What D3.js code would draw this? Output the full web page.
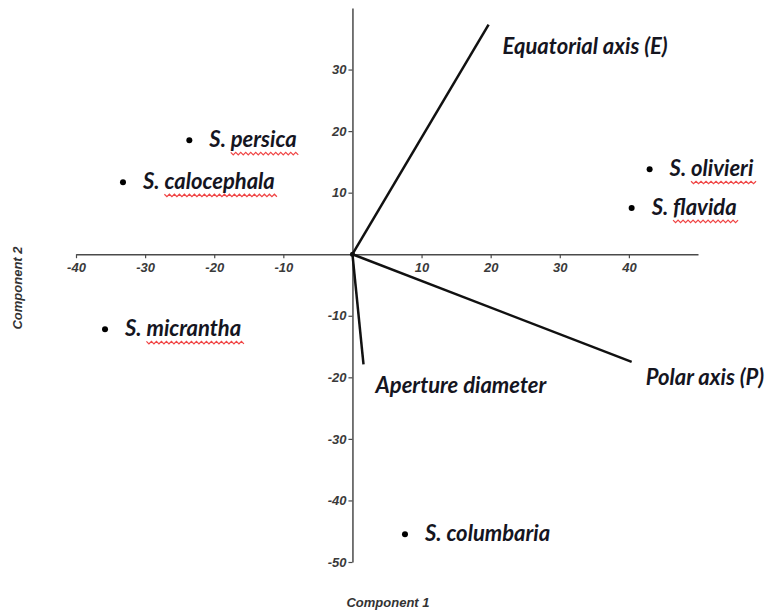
<!DOCTYPE html>
<html>
<head>
<meta charset="utf-8">
<script src="https://cdn.jsdelivr.net/npm/d3@7"></script>
<style>
  body { margin: 0; background: #fff; }
  svg { display: block; }
  .lbl { font-family: Lato, "Open Sans", sans-serif; font-weight: bold; font-style: italic; font-size: 22px; fill: #15151f; }
</style>
</head>
<body>
<script>
// species scores on the first two components
const species = ['S. persica', 'S. calocephala', 'S. olivieri', 'S. flavida', 'S. micrantha', 'S. columbaria']
const comp1 = [-23.6, -33.2, 43.0, 40.4, -35.8, 7.6]
const comp2 = [18.5, 11.7, 13.8, 7.5, -12.2, -45.5]
const spellFlag = [true, true, true, true, true, false]

// variable loadings (vectors from origin)
const variables = ['Equatorial axis (E)', 'Polar axis (P)', 'Aperture diameter']
const load1 = [19.7, 40.4, 1.6]
const load2 = [37.3, -17.5, -17.9]

const xTicks = [-40, -30, -20, -10, 10, 20, 30, 40]
const yTicks = [-50, -40, -30, -20, -10, 10, 20, 30]

const width = 770
const height = 611

const svg = d3.select('body').append('svg')
  .attr('width', width)
  .attr('height', height)

const x = d3.scaleLinear().domain([-40, 50]).range([76, 698])
const y = d3.scaleLinear().domain([-50, 40]).range([562, 8])

const axisColor = '#4a4a4a'
const tickFont = 'italic bold 13px Arial, "Liberation Sans", sans-serif'
const fmt = d => String(d)

const gx = svg.append('g')
  .attr('transform', `translate(0,${y(0)})`)
  .call(d3.axisBottom(x).tickValues(xTicks).tickSize(4).tickSizeOuter(0).tickPadding(5).tickFormat(fmt))
gx.select('.domain').attr('stroke', axisColor).attr('stroke-width', 1.5)
gx.selectAll('.tick line').attr('stroke', axisColor).attr('stroke-width', 1.2)

const gy = svg.append('g')
  .attr('transform', `translate(${x(0)},0)`)
  .call(d3.axisLeft(y).tickValues(yTicks).tickSize(4).tickSizeOuter(0).tickPadding(2).tickFormat(fmt))
gy.select('.domain').attr('stroke', axisColor).attr('stroke-width', 1.5)
gy.selectAll('.tick line').attr('stroke', axisColor).attr('stroke-width', 1.2)

svg.selectAll('.tick text')
  .attr('fill', '#3a3a3a')
  .style('font', tickFont)

// axis titles
svg.append('text')
  .attr('x', 388)
  .attr('y', 607)
  .attr('text-anchor', 'middle')
  .style('font', 'italic bold 13px Arial, "Liberation Sans", sans-serif')
  .attr('fill', '#333')
  .text('Component 1')

svg.append('text')
  .attr('transform', 'translate(22,288) rotate(-90)')
  .attr('text-anchor', 'middle')
  .style('font', 'italic bold 13px Arial, "Liberation Sans", sans-serif')
  .attr('fill', '#333')
  .text('Component 2')

// loading vectors
const vecData = variables.map((v, i) => ({ name: v, x: load1[i], y: load2[i] }))
const vecOffset = {
  'Equatorial axis (E)': [14, 29],
  'Polar axis (P)': [14, 23],
  'Aperture diameter': [12, 29]
}

svg.append('g').selectAll('line')
  .data(vecData)
  .join('line')
  .attr('x1', x(0))
  .attr('y1', y(0))
  .attr('x2', d => x(d.x))
  .attr('y2', d => y(d.y))
  .attr('stroke', '#111')
  .attr('stroke-width', 2.5)

svg.append('circle').attr('cx', x(0)).attr('cy', y(0)).attr('r', 2.5).attr('fill', '#111')

svg.append('g').selectAll('text')
  .data(vecData)
  .join('text')
  .attr('class', 'lbl')
  .attr('x', d => x(d.x) + vecOffset[d.name][0])
  .attr('y', d => y(d.y) + vecOffset[d.name][1])
  .text(d => d.name)

// species points
const ptData = species.map((s, i) => ({ name: s, x: comp1[i], y: comp2[i], flag: spellFlag[i] }))

svg.append('g').selectAll('circle')
  .data(ptData)
  .join('circle')
  .attr('cx', d => x(d.x))
  .attr('cy', d => y(d.y))
  .attr('r', 3)
  .attr('fill', '#000')

const lbls = svg.append('g').selectAll('g')
  .data(ptData)
  .join('g')
  .attr('transform', d => `translate(${x(d.x) + 20},${y(d.y) + 7})`)

lbls.each(function (d) {
  const g = d3.select(this)
  const t = g.append('text').attr('class', 'lbl')
  const parts = d.name.split(' ')
  const first = t.append('tspan').text(parts[0] + ' ')
  t.append('tspan').text(parts.slice(1).join(' '))
  if (!d.flag) return
  const x0 = first.node().getComputedTextLength()
  const x1 = t.node().getComputedTextLength()
  // red wavy spell-check underline
  const pts = []
  const step = 2.5
  for (let i = 0, px = x0; px <= x1 + 3; i++, px += step) {
    pts.push([px, 5 + (i % 2 === 0 ? 0 : 2.5)])
  }
  g.append('path')
    .attr('d', d3.line()(pts))
    .attr('fill', 'none')
    .attr('stroke', '#f04545')
    .attr('stroke-width', 1.2)
})
</script>
</body>
</html>
